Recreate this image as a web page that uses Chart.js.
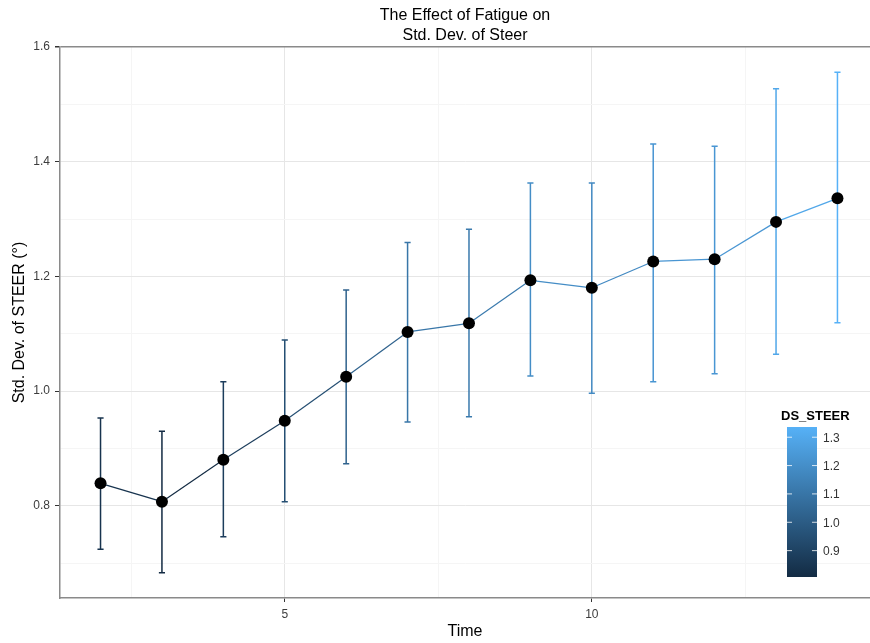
<!DOCTYPE html>
<html>
<head>
<meta charset="utf-8">
<title>The Effect of Fatigue on Std. Dev. of Steer</title>
<script src="https://cdn.jsdelivr.net/npm/chart.js@4.4.1/dist/chart.umd.min.js"></script>
<style>
  html, body { margin: 0; padding: 0; background: #fff; overflow: hidden; }
  /* panel runs off the right edge in the original, so the canvas is a bit wider than the window */
  #wrap { width: 876px; height: 643px; position: relative; }
</style>
</head>
<body>
<div id="wrap"><canvas id="fatigueChart"></canvas></div>
<script>
// values
const times = [2, 3, 4, 5, 6, 7, 8, 9, 10, 11, 12, 13, 14];
const meanSteer  = [0.839, 0.807, 0.880, 0.948, 1.025, 1.103, 1.118, 1.193, 1.180, 1.226, 1.230, 1.295, 1.336];
const upperSteer = [0.953, 0.930, 1.016, 1.089, 1.176, 1.259, 1.282, 1.363, 1.363, 1.431, 1.427, 1.527, 1.556];
const lowerSteer = [0.724, 0.683, 0.746, 0.807, 0.873, 0.946, 0.955, 1.026, 0.996, 1.016, 1.030, 1.064, 1.119];
const xTickLabels = ['5', '10'];
const yTickLabels = ['0.8', '1.0', '1.2', '1.4', '1.6'];
const legendTicks = ['0.9', '1.0', '1.1', '1.2', '1.3'];

const titleLines = ['The Effect of Fatigue on', 'Std. Dev. of Steer'];
const FONT = '"Liberation Sans", Arial, sans-serif';

// ggplot-ish gradient: low #132B43 -> high #56B1F7
const lowCol = [19, 43, 67], highCol = [86, 177, 247];
const cMin = Math.min(...meanSteer), cMax = Math.max(...meanSteer);
const colorFor = v => {
  const t = Math.max(0, Math.min(1, (v - cMin) / (cMax - cMin)));
  const c = lowCol.map((lo, i) => Math.round(lo + (highCol[i] - lo) * t));
  return `rgb(${c[0]}, ${c[1]}, ${c[2]})`;
};

const isLabelled = (val, labels) => labels.some(l => Math.abs(parseFloat(l) - val) < 1e-6);

// error bars drawn through the chart's own scales
const errorBars = {
  id: 'errorBars',
  beforeDatasetsDraw(chart) {
    const { ctx, scales: { x, y } } = chart;
    ctx.save();
    ctx.lineWidth = 1.5;
    times.forEach((t, i) => {
      const px = x.getPixelForValue(t);
      const cap = x.getPixelForValue(t + 0.05) - px;
      const top = y.getPixelForValue(upperSteer[i]);
      const bot = y.getPixelForValue(lowerSteer[i]);
      ctx.strokeStyle = colorFor(meanSteer[i]);
      ctx.beginPath();
      ctx.moveTo(px, top); ctx.lineTo(px, bot);
      ctx.moveTo(px - cap, top); ctx.lineTo(px + cap, top);
      ctx.moveTo(px - cap, bot); ctx.lineTo(px + cap, bot);
      ctx.stroke();
    });
    ctx.restore();
  }
};

// title + colour bar legend
const decorations = {
  id: 'decorations',
  afterDraw(chart) {
    const { ctx, chartArea } = chart;
    ctx.save();
    ctx.fillStyle = '#000';
    ctx.textAlign = 'center';
    ctx.textBaseline = 'middle';
    ctx.font = `16px ${FONT}`;
    const cx = (chartArea.left + chartArea.right) / 2;
    titleLines.forEach((line, i) => ctx.fillText(line, cx, 16 + i * 20));

    // colour bar
    const bx = 787, bw = 30, bTop = 427, bBot = 577;
    const grad = ctx.createLinearGradient(0, bBot, 0, bTop);
    grad.addColorStop(0, colorFor(cMin));
    grad.addColorStop(1, colorFor(cMax));
    ctx.fillStyle = grad;
    ctx.fillRect(bx, bTop, bw, bBot - bTop);

    ctx.font = `bold 13px ${FONT}`;
    ctx.fillStyle = '#000';
    ctx.textAlign = 'left';
    ctx.fillText('DS_STEER', 781, 416);

    ctx.font = `12px ${FONT}`;
    ctx.strokeStyle = 'rgba(255,255,255,0.8)';
    ctx.lineWidth = 1;
    legendTicks.forEach(lbl => {
      const v = parseFloat(lbl);
      const py = bBot - (v - cMin) / (cMax - cMin) * (bBot - bTop);
      ctx.beginPath();
      ctx.moveTo(bx, py); ctx.lineTo(bx + 5, py);
      ctx.moveTo(bx + bw - 5, py); ctx.lineTo(bx + bw, py);
      ctx.stroke();
      ctx.fillStyle = '#333';
      ctx.fillText(lbl, 823, py + 1);
    });
    ctx.restore();
  }
};

const chart = new Chart(document.getElementById('fatigueChart'), {
  type: 'line',
  data: {
    datasets: [{
      label: 'Std. Dev. of STEER',
      data: times.map((t, i) => ({ x: t, y: meanSteer[i] })),
      borderWidth: 1.2,
      segment: { borderColor: c => colorFor(c.p0.parsed.y) },
      pointRadius: 6,
      pointBackgroundColor: '#000',
      pointBorderColor: '#000',
      pointBorderWidth: 0,
      tension: 0,
      fill: false
    }]
  },
  options: {
    responsive: true,
    maintainAspectRatio: false,
    animation: false,
    layout: { padding: { top: 47, left: 0, right: 0, bottom: 0 } },
    plugins: { legend: { display: false }, tooltip: { enabled: false } },
    scales: {
      x: {
        type: 'linear',
        min: 1.34,
        max: 14.53,
        afterFit: s => { s.height = 45; s.paddingLeft = 0; s.paddingRight = 0; },
        border: { color: '#8a8a8a', width: 1.5 },
        grid: {
          color: c => isLabelled(c.tick.value, xTickLabels) ? '#e6e6e6' : '#f5f5f5',
          tickColor: c => isLabelled(c.tick.value, xTickLabels) ? '#333' : 'transparent',
          tickLength: 4
        },
        ticks: {
          stepSize: 2.5,
          includeBounds: false,
          autoSkip: false,
          maxRotation: 0,
          padding: 5,
          color: '#3c3c3c',
          font: { family: FONT, size: 12 },
          callback: v => isLabelled(v, xTickLabels) ? String(v) : ''
        },
        title: {
          display: true,
          text: 'Time',
          color: '#000',
          font: { family: FONT, size: 16 },
          padding: { top: 0, bottom: 2 }
        }
      },
      y: {
        type: 'linear',
        min: 0.639,
        max: 1.6,
        afterFit: s => { s.width = 60; s.paddingTop = 0; s.paddingBottom = 0; },
        border: { color: '#8a8a8a', width: 1.5 },
        grid: {
          color: c => Math.abs(c.tick.value - 1.6) < 1e-6 ? '#8a8a8a'
            : (isLabelled(c.tick.value, yTickLabels) ? '#e6e6e6' : '#f5f5f5'),
          lineWidth: c => Math.abs(c.tick.value - 1.6) < 1e-6 ? 1.5 : 1,
          tickColor: c => isLabelled(c.tick.value, yTickLabels) ? '#333' : 'transparent',
          tickLength: 5
        },
        ticks: {
          stepSize: 0.1,
          includeBounds: false,
          autoSkip: false,
          padding: 5,
          color: '#3c3c3c',
          font: { family: FONT, size: 12 },
          callback: v => isLabelled(v, yTickLabels) ? v.toFixed(1) : ''
        },
        title: {
          display: true,
          text: 'Std. Dev. of STEER (°)',
          color: '#000',
          font: { family: FONT, size: 16 },
          padding: { top: 10, bottom: 0 }
        }
      }
    }
  },
  plugins: [errorBars, decorations]
});
</script>
</body>
</html>
